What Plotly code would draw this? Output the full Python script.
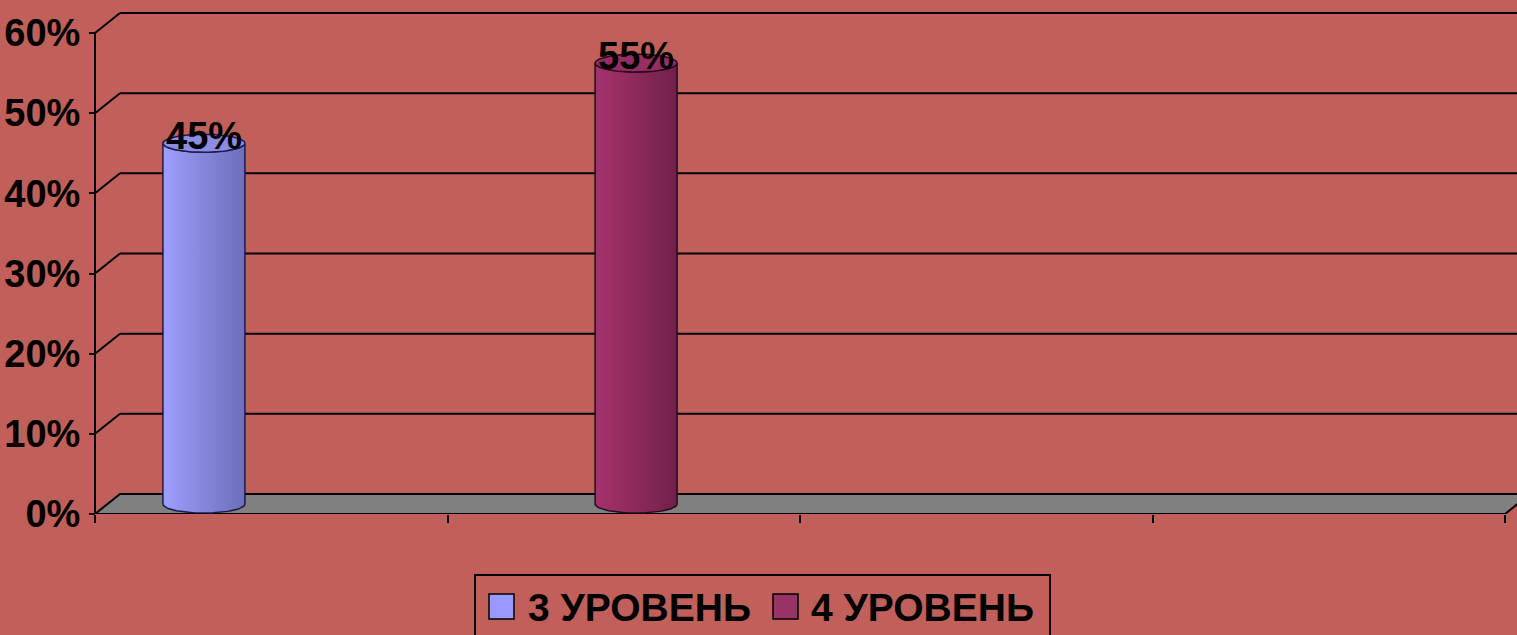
import numpy as np
import plotly.graph_objects as go

# ---- data ----
series = ["3 УРОВЕНЬ", "4 УРОВЕНЬ"]
values = [0.45, 0.55]
value_labels = ["45%", "55%"]
y_ticks = [0, 0.1, 0.2, 0.3, 0.4, 0.5, 0.6]
y_tick_labels = ["0%", "10%", "20%", "30%", "40%", "50%", "60%"]
x_ticks = [0, 1, 2, 3, 4]

# ---- layout / style ----
W, H = 1517, 635
ML, MR, MT, MB = 90, 0, 10, 121
PW, PH = W - ML - MR, H - MT - MB
PX_X = 352.5            # px per category unit
PX_Y = 801.67           # px per 1.0 of value
X0 = -5 / PX_X
X1 = 4 + 12 / PX_X
Y1 = 0.6 + 23 / PX_Y
DX, DY = 25 / PX_X, 20 / PX_Y   # 3D depth offset
R, B = 41 / PX_X, 9 / PX_Y      # cylinder radius (x) and ellipse half-height (y)
bar_centers = [0.309, 1.535]
body_scales = [
    [[0, "#9E9EFF"], [0.45, "#8888DD"], [1, "#6E6EBD"]],
    [[0, "#A5326B"], [0.45, "#8F2B5D"], [1, "#70204A"]],
]
top_colors = ["#8C8CE2", "#952E62"]
outline_colors = ["#1B1B4A", "#2A0A1C"]
legend_colors = ["#9999FF", "#993366"]
BG = "#C1605A"
FONT = "Liberation Sans, Arial, sans-serif"

fig = go.Figure()

# cylinders
t = np.linspace(0, np.pi, 50)
s = np.linspace(0, 2 * np.pi, 100)
for i, (cx, v) in enumerate(zip(bar_centers, values)):
    base = DY / 2
    top = v + DY / 2
    xs = [cx - R] + list(cx - R * np.cos(t)) + [cx + R] + list(cx + R * np.cos(t)) + [cx - R]
    ys = [base] + list(top - B * np.sin(t)) + [base] + list(base - B * np.sin(t)) + [base]
    fig.add_trace(go.Scatter(
        x=xs, y=ys, mode="lines", fill="toself",
        fillgradient=dict(type="horizontal", colorscale=body_scales[i]),
        line=dict(color=outline_colors[i], width=1.5),
        hoverinfo="skip", showlegend=False, name=series[i]))
    fig.add_trace(go.Scatter(
        x=cx + R * np.cos(s), y=top + B * np.sin(s), mode="lines", fill="toself",
        fillcolor=top_colors[i], line=dict(color=outline_colors[i], width=1.5),
        hoverinfo="skip", showlegend=False))
    fig.add_annotation(x=cx, y=top + 7 / PX_Y, text=value_labels[i], showarrow=False,
                       xanchor="center", yanchor="middle",
                       font=dict(family=FONT, size=38, color="black", weight="bold"))

shapes = []
# floor
shapes.append(dict(type="path", xref="x", yref="y", layer="below",
                   path=f"M 0,0 L {x_ticks[-1]},0 L {x_ticks[-1] + DX},{DY} L {DX},{DY} Z",
                   fillcolor="#808080", line=dict(color="black", width=2)))
# back wall grid lines and diagonals
for v in y_ticks[1:]:
    shapes.append(dict(type="line", xref="x", yref="y", layer="below",
                       x0=0, y0=v, x1=DX, y1=v + DY, line=dict(color="black", width=2)))
    shapes.append(dict(type="line", xref="x", yref="y", layer="below",
                       x0=DX, y0=v + DY, x1=X1 + 1, y1=v + DY, line=dict(color="black", width=2)))
# front value axis line
shapes.append(dict(type="line", xref="x", yref="y", layer="below",
                   x0=0, y0=0, x1=0, y1=y_ticks[-1], line=dict(color="black", width=2)))


def px_to_paper(px, py):
    return (px - ML) / PW, (H - MB - py) / PH


# manual legend
bx0, by0 = px_to_paper(475, 575)
bx1, by1 = px_to_paper(1050, 645)
shapes.append(dict(type="rect", xref="paper", yref="paper", x0=bx0, y0=by1, x1=bx1, y1=by0,
                   line=dict(color="black", width=2), fillcolor="rgba(0,0,0,0)"))
sq_x = [489, 773]
txt_x = [526, 809]
for i, name in enumerate(series):
    sx0, sy0 = px_to_paper(sq_x[i], 594)
    sx1, sy1 = px_to_paper(sq_x[i] + 25, 619)
    shapes.append(dict(type="rect", xref="paper", yref="paper", x0=sx0, y0=sy1, x1=sx1, y1=sy0,
                       fillcolor=legend_colors[i], line=dict(color="black", width=1.5)))
    tx, ty = px_to_paper(txt_x[i], 607)
    fig.add_annotation(xref="paper", yref="paper", x=tx, y=ty, text=name, showarrow=False,
                       xanchor="left", yanchor="middle",
                       font=dict(family=FONT, size=39, color="black", weight="bold"))

fig.update_layout(
    width=W, height=H, autosize=False,
    margin=dict(l=ML, r=MR, t=MT, b=MB, pad=0),
    paper_bgcolor=BG, plot_bgcolor=BG,
    showlegend=False, shapes=shapes,
    xaxis=dict(range=[X0, X1], showgrid=False, zeroline=False, showline=False,
               tickvals=x_ticks, ticks="outside", ticklen=8, tickwidth=2, tickcolor="black",
               showticklabels=False, fixedrange=True),
    yaxis=dict(range=[0, Y1], anchor="free", position=5 / PW, showgrid=False, zeroline=False,
               showline=False, tickvals=y_ticks, ticktext=y_tick_labels, ticks="outside",
               ticklen=6, tickwidth=2, tickcolor="black", ticklabelstandoff=1,
               tickfont=dict(family=FONT, size=38, color="black", weight="bold"),
               fixedrange=True),
)

fig.write_html(
    "out.html",
    config={"displayModeBar": False},
    post_script=(
        "document.body.style.margin='0';"
        "document.body.style.padding='0';"
        "document.body.style.background='" + BG + "';"
        "document.documentElement.style.overflow='hidden';"
    ),
)
